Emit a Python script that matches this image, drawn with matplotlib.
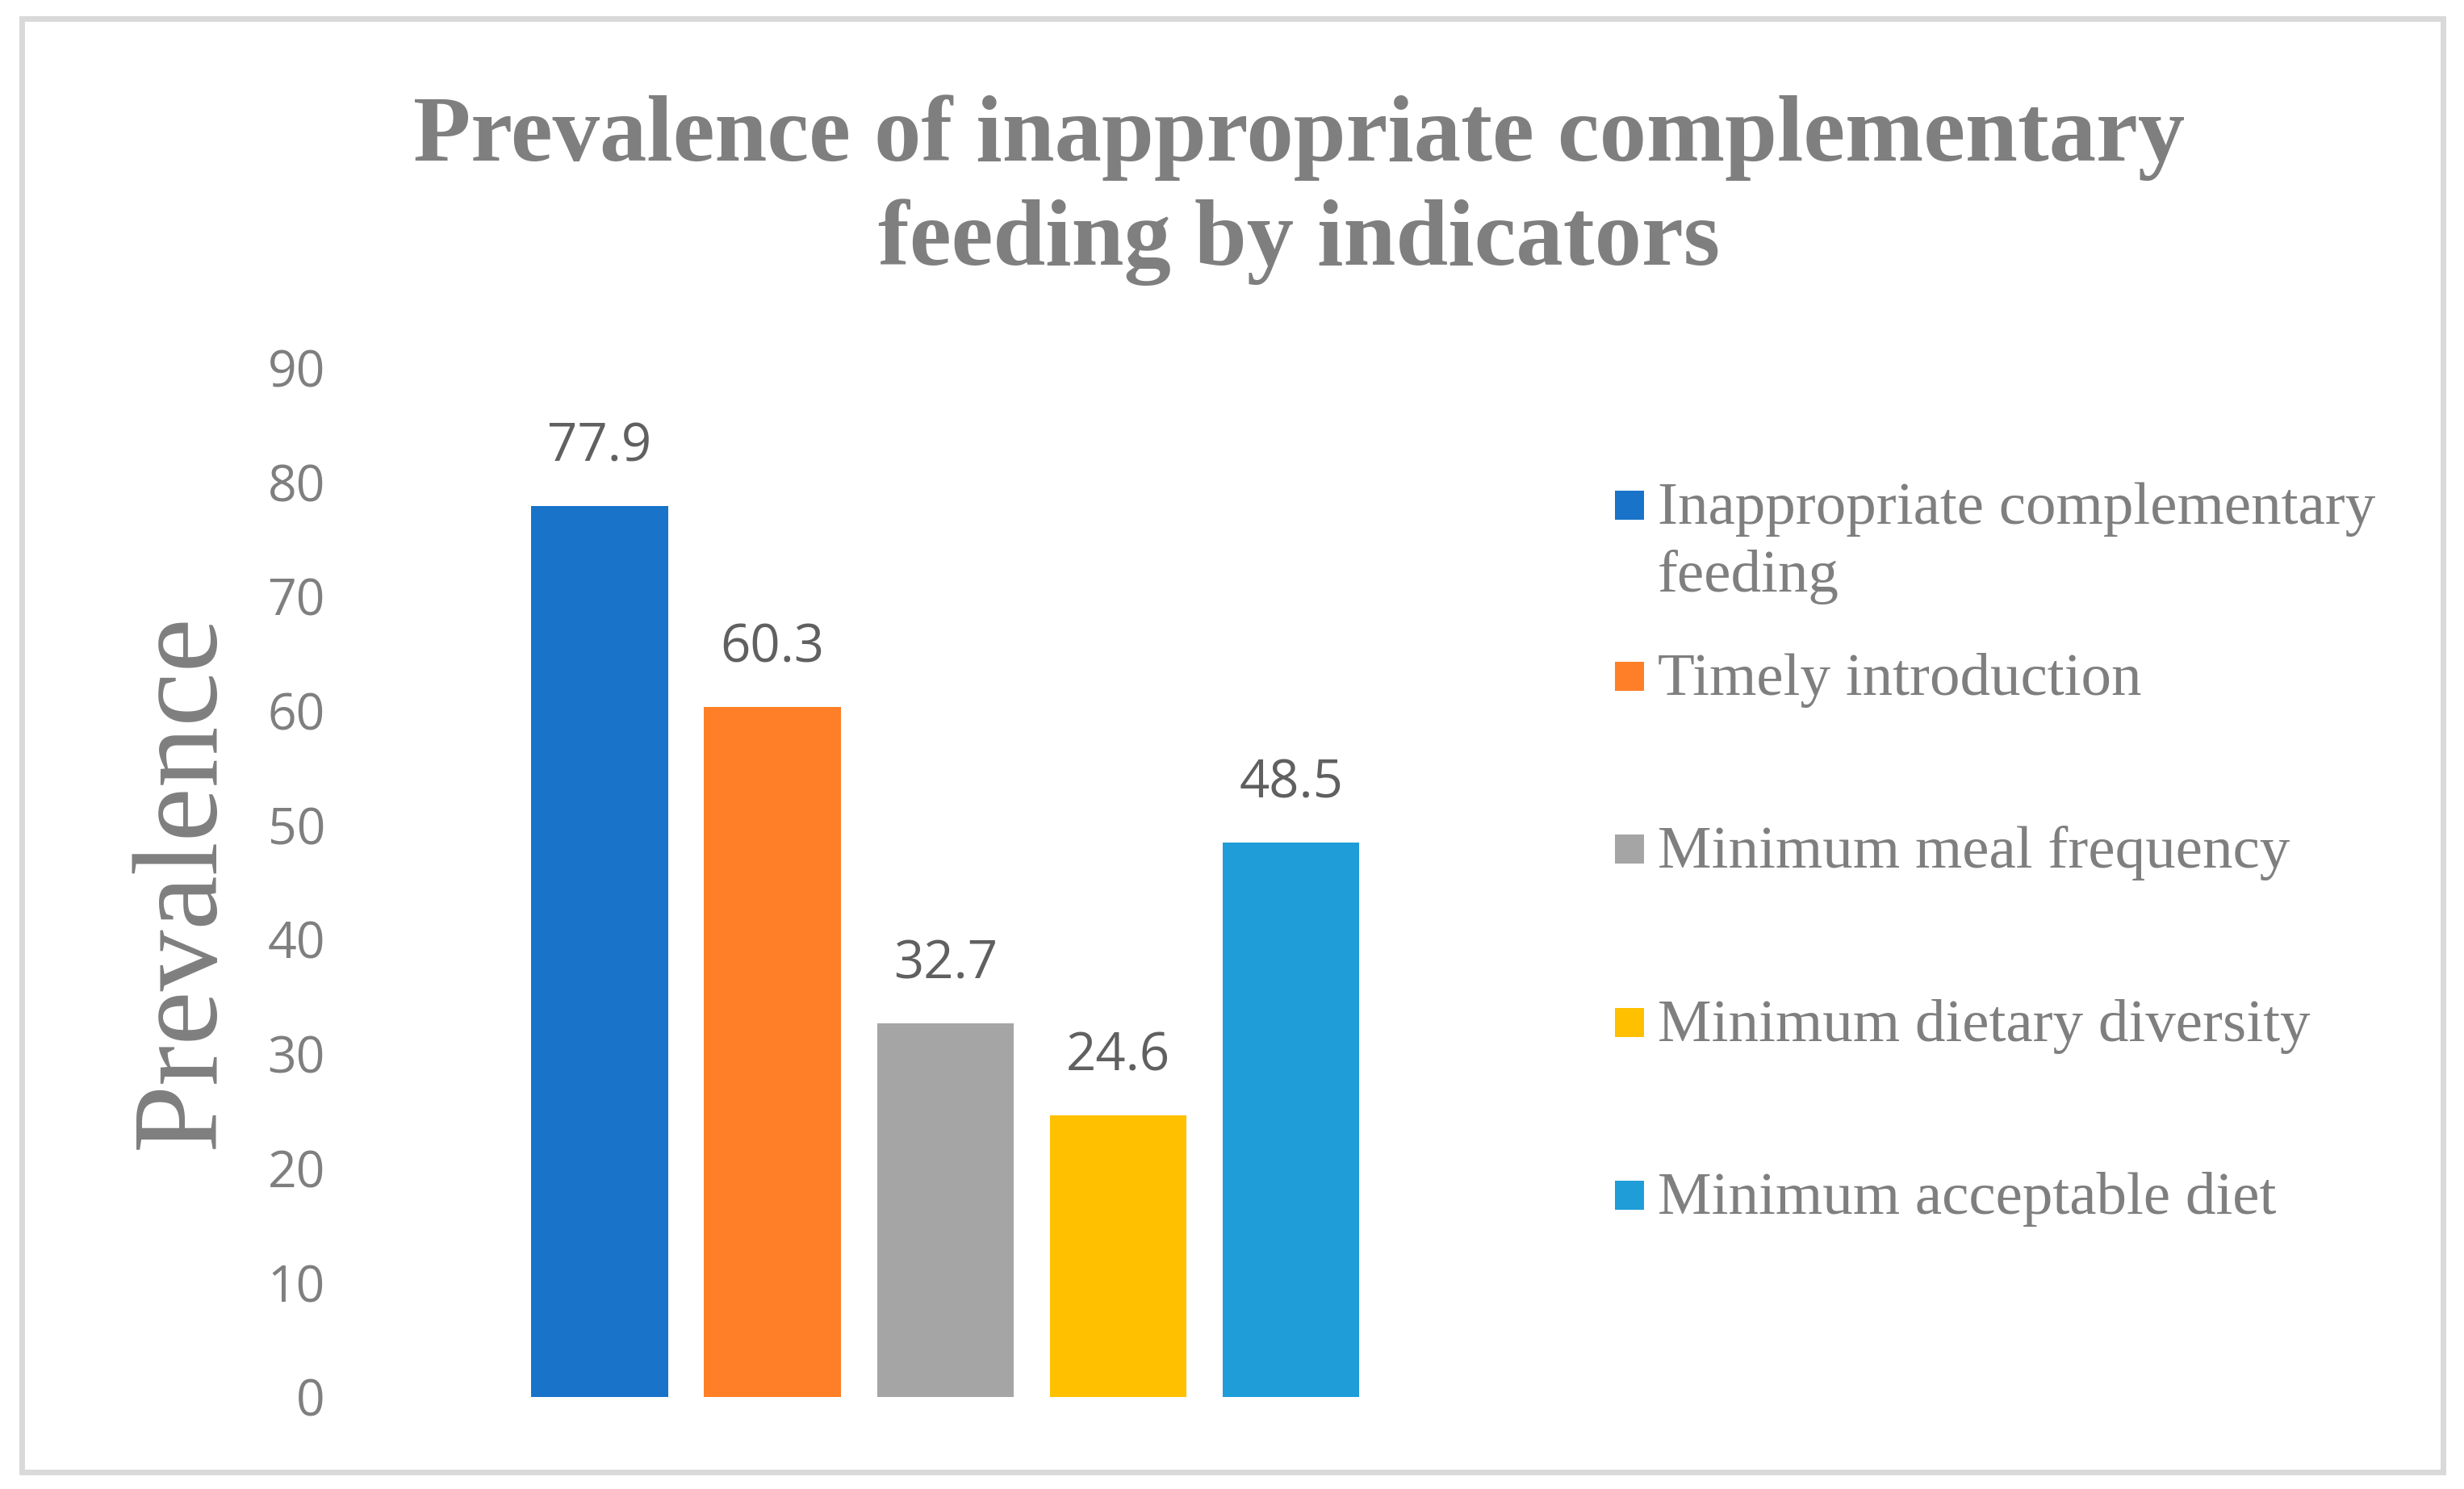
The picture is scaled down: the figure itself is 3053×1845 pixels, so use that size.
import matplotlib
matplotlib.use("Agg")
import matplotlib.pyplot as plt
from matplotlib.patches import Rectangle

# chart data
categories = ["Inappropriate complementary\nfeeding", "Timely introduction",
              "Minimum meal frequency", "Minimum dietary diversity",
              "Minimum acceptable diet"]
values = [77.9, 60.3, 32.7, 24.6, 48.5]
colors = ["#1873C9", "#FE7F27", "#A5A5A5", "#FFC000", "#1E9DD9"]
yticks = [0, 10, 20, 30, 40, 50, 60, 70, 80, 90]

W, H = 3053, 1845
fig = plt.figure(figsize=(W / 100, H / 100), dpi=100)
fig.patch.set_facecolor("white")

# outer chart border
fig.patches.append(Rectangle((26.5 / W, 1 - 1823.5 / H), (3026.5 - 26.5) / W, (1823.5 - 22.5) / H,
                             transform=fig.transFigure, fill=False,
                             edgecolor="#D9D9D9", linewidth=5))

ax = fig.add_axes([428 / W, 1 - 1731 / H, (1914 - 428) / W, (1731 - 455.6) / H])
x = list(range(len(values)))
ax.bar(x, values, width=0.79, color=colors)
ax.set_xlim(-1.47, 5.467)
ax.set_ylim(0, 90)
ax.set_yticks(yticks)
ax.set_yticklabels([str(t) for t in yticks], fontfamily="Open Sans", fontsize=45, color="#7F7F7F")
ax.tick_params(axis="y", length=0, pad=18)
ax.set_xticks([])
for s in ax.spines.values():
    s.set_visible(False)

for xi, v in zip(x, values):
    ax.annotate(f"{v}", (xi, v), xytext=(0, 40), textcoords="offset points",
                ha="center", va="baseline", fontfamily="Open Sans",
                fontsize=47, color="#606060")

# title (baseline refers to the last line)
fig.text(1610 / W, 1 - 328 / H, "Prevalence of inappropriate complementary\nfeeding by indicators",
         ha="center", va="baseline", fontfamily="Liberation Serif", fontweight="bold",
         fontsize=84, color="#7F7F7F", linespacing=1.27)

# y axis title
fig.text(228 / W, 1 - 1092 / H, "Prevalence", rotation=90, ha="center", va="center",
         fontfamily="Liberation Serif", fontsize=109, color="#7F7F7F")

# legend
base_y = [649, 861, 1075, 1290, 1504]
for lab, col, by in zip(categories, colors, base_y):
    fig.patches.append(Rectangle((2001 / W, 1 - (by - 5) / H), 36 / W, 36 / H,
                                 transform=fig.transFigure, facecolor=col, edgecolor="none"))
    lines = lab.split("\n")
    for j, line in enumerate(lines):
        fig.text(2054 / W, 1 - (by + j * 84) / H, line, ha="left", va="baseline",
                 fontfamily="Liberation Serif", fontsize=54, color="#7F7F7F")

fig.savefig("out.png", dpi=100)
